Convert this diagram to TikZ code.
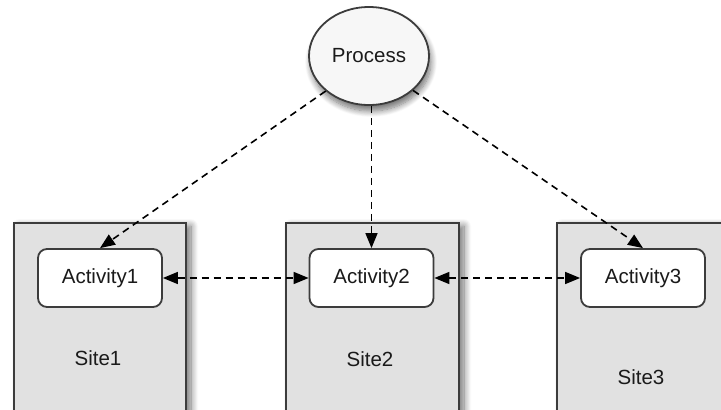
\documentclass[tikz,border=0pt]{standalone}
\usepackage{fontspec}
\setmainfont{Liberation Sans}
\usetikzlibrary{shapes.geometric,arrows.meta,shadows.blur}
\definecolor{sitefill}{HTML}{E1E1E1}
\definecolor{edge}{HTML}{3C3C3C}
\definecolor{ink}{HTML}{1A1A1A}
\begin{document}
\begin{tikzpicture}[x=1pt,y=-1pt,
  font=\fontsize{20.5}{24}\selectfont, text=ink,
  site/.style={draw=edge, line width=2pt, fill=sitefill,
    blur shadow={shadow xshift=5pt, shadow yshift=-3pt, shadow blur steps=10, shadow blur radius=7pt, shadow opacity=55}},
  activity/.style={draw=edge, line width=1.8pt, fill=white, rounded corners=9pt,
    minimum width=124pt, minimum height=58pt, inner sep=0pt},
  procnode/.style={ellipse, draw=edge, line width=1.8pt, fill=gray!6,
    minimum width=120pt, minimum height=98pt, inner sep=0pt,
    blur shadow={shadow xshift=2pt, shadow yshift=-6pt, shadow blur steps=10, shadow blur radius=6pt, shadow opacity=55}},
  link/.style={dash pattern=on 7pt off 5pt, line width=1.6pt, draw=black, -{Triangle[length=15pt,width=12pt]}},
  biglink/.style={link, {Triangle[length=15pt,width=12pt]}-{Triangle[length=15pt,width=12pt]}}
]
\useasboundingbox (0,0) rectangle (721,410);
\clip (0,0) rectangle (721,410);

% site containers (they run past the lower and right edges)
\draw[site] (14,223) rectangle (186,430);
\draw[site] (286,223) rectangle (459,430);
\draw[site] (557,223) rectangle (740,430);

% activities inside the sites
\node[activity] (a1) at (100,278) {Activity1};
\node[activity] (a2) at (371.5,278) {Activity2};
\node[activity] (a3) at (643,278) {Activity3};

% site captions
\node (s1) at (98,358) {Site1};
\node (s2) at (370,359) {Site2};
\node (s3) at (641,377) {Site3};

% the process
\node[procnode] (proc) at (369,56) {Process};

% process dispatches to each activity
\draw[link] (proc.219) -- (a1.north);
\draw[link] (proc.south -| a2.north) -- (a2.north);
\draw[link] (proc.322) -- (a3.north);

% peer links between activities
\draw[biglink] (a1.east) -- (a2.west);
\draw[biglink] (a2.east) -- (a3.west);
\end{tikzpicture}
\end{document}
